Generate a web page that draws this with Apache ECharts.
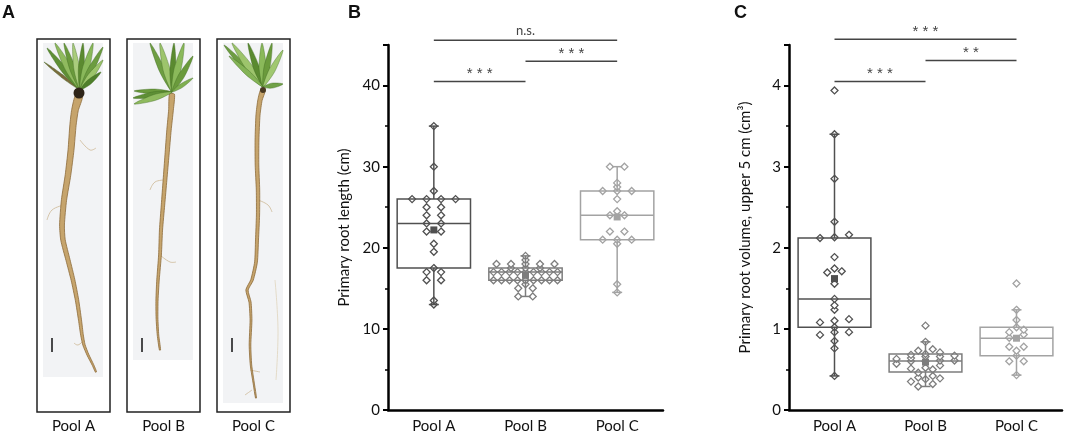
<!DOCTYPE html>
<html>
<head>
<meta charset="utf-8">
<script src="https://cdn.jsdelivr.net/npm/echarts@6/dist/echarts.min.js"></script>
<style>
  html, body { margin: 0; background: #fff; }
  #chart { width: 1065px; height: 436px; }
</style>
</head>
<body>
<div id="chart"></div>
<script>
// values
const pools = ['Pool A', 'Pool B', 'Pool C'];

const lengthA = [35, 30, 27, 26, 26, 26, 26, 25, 25, 24, 24, 23, 23, 22, 22, 20.5, 19.5, 17.5, 17, 17, 16, 16, 13.5, 13];
const lengthB = [19, 18.5, 18, 18, 18, 18, 18, 17.5, 17.5, 17.5, 17, 17, 17, 17, 17, 17, 17, 17, 17,
                 16, 16, 16, 16, 16, 16, 16, 16, 16, 15.5, 15, 15, 14, 14];
const lengthC = [30, 30, 28, 27.5, 27, 27, 27, 26, 24.5, 24, 24, 22, 22, 21, 21, 21, 20.5, 15.5, 14.5];

const volumeA = [3.94, 3.40, 2.85, 2.32, 2.16, 2.13, 2.12, 1.885, 1.745, 1.71, 1.695, 1.556, 1.37, 1.29,
                 1.235, 1.12, 1.10, 1.08, 1.02, 0.96, 0.96, 0.926, 0.85, 0.76, 0.42];
const volumeB = [1.04, 0.84, 0.75, 0.73, 0.71, 0.69, 0.68, 0.67, 0.66, 0.66, 0.64, 0.63, 0.61, 0.61, 0.60,
                 0.60, 0.57, 0.55, 0.52, 0.51, 0.50, 0.46, 0.42, 0.40, 0.39, 0.38, 0.35, 0.32, 0.29];
const volumeC = [1.56, 1.235, 1.11, 1.02, 0.99, 0.96, 0.93, 0.89, 0.78, 0.78, 0.73, 0.67, 0.60, 0.60, 0.43];

// [whisker low, Q1, median, Q3, whisker high]
const lengthBox = [[13, 17.5, 23, 26, 35], [14, 16, 17, 17.5, 19], [14.5, 21, 24, 27, 30]];
const lengthMean = [22.2, 16.6, 23.8];
const volumeBox = [[0.42, 1.02, 1.37, 2.12, 3.40], [0.29, 0.47, 0.605, 0.69, 0.84], [0.43, 0.67, 0.885, 1.02, 1.235]];
const volumeMean = [1.62, 0.59, 0.885];

// [from pool, to pool, bracket level, label]
const lengthSig = [[0, 2, 45.6, 'n.s.'], [1, 2, 43.0, '* * *'], [0, 1, 40.5, '* * *']];
const volumeSig = [[0, 2, 4.57, '* * *'], [1, 2, 4.31, '* *'], [0, 1, 4.05, '* * *']];

const lengthTicks = { max: 45, interval: 10 };
const volumeTicks = { max: 4.5, interval: 1 };

const poolColors = ['#505050', '#7d7d7d', '#a3a3a3'];
const FONT = 'Lato, "Open Sans", sans-serif';

// simple column-scatter layout: ties sit side by side, squeezed to fit the box
function swarm(vals, pxPerUnit, bandPx) {
  const s = vals.slice().sort((a, b) => a - b);
  const out = [];
  let i = 0;
  while (i < s.length) {
    let j = i;
    while (j + 1 < s.length && (s[j + 1] - s[i]) * pxPerUnit < 3.5) j++;
    const n = j - i + 1;
    const sp = Math.min(14.5, 64 / Math.max(n - 1, 1));
    for (let k = 0; k < n; k++) out.push([(k - (n - 1) / 2) * sp / bandPx, s[i + k]]);
    i = j + 1;
  }
  return out;
}

function boxRender(stats, means) {
  return function (params, api) {
    const i = params.dataIndex;
    const [lo, q1, md, q3, hi] = stats[i];
    const col = poolColors[i];
    const x = api.coord([i, md])[0];
    const y = v => api.coord([i, v])[1];
    const half = api.size([1, 0])[0] * 0.4;
    const st = { stroke: col, lineWidth: 1.5, fill: 'none' };
    const line = (x1, y1, x2, y2) => ({ type: 'line', shape: { x1, y1, x2, y2 }, style: st });
    return {
      type: 'group',
      children: [
        { type: 'rect', shape: { x: x - half, y: y(q3), width: 2 * half, height: y(q1) - y(q3) }, style: st },
        line(x - half, y(md), x + half, y(md)),
        line(x, y(q3), x, y(hi)),
        line(x, y(q1), x, y(lo)),
        line(x - 5, y(hi), x + 5, y(hi)),
        line(x - 5, y(lo), x + 5, y(lo)),
        { type: 'rect', shape: { x: x - 3.5, y: y(means[i]) - 3.5, width: 7, height: 7 }, style: { fill: col } }
      ]
    };
  };
}

function sigRender(sig) {
  return function (params, api) {
    const s = sig[params.dataIndex];
    const p1 = api.coord([s[0], s[2]]);
    const p2 = api.coord([s[1], s[2]]);
    const ns = s[3] === 'n.s.';
    return {
      type: 'group',
      children: [
        { type: 'line', shape: { x1: p1[0], y1: p1[1], x2: p2[0], y2: p2[1] }, style: { stroke: '#444', lineWidth: 1.5 } },
        { type: 'text', style: { text: s[3], x: (p1[0] + p2[0]) / 2, y: p1[1] - (ns ? 3 : 0), align: 'center', verticalAlign: 'bottom',
          fill: '#444', font: ns ? '13px ' + FONT : '15px "Liberation Sans", Arial, sans-serif' } }
      ]
    };
  };
}

function yAxis(gridIndex, ticks, name) {
  return {
    type: 'value', gridIndex, min: 0, max: ticks.max, interval: ticks.interval,
    name, nameLocation: 'middle', nameGap: 36,
    nameTextStyle: { fontSize: 15, color: '#111', fontFamily: FONT },
    axisLine: { show: true, onZero: false, lineStyle: { color: '#000', width: 2.5 } },
    axisTick: { show: true, length: 5, lineStyle: { color: '#000', width: 2 } },
    minorTick: { show: true, splitNumber: 2, length: 3, lineStyle: { color: '#000', width: 1.5 } },
    splitLine: { show: false },
    axisLabel: {
      fontSize: 15, color: '#111', fontFamily: FONT, margin: 8,
      formatter: v => Math.abs(v / ticks.interval - Math.round(v / ticks.interval)) < 1e-6 ? String(v) : ''
    }
  };
}

function catAxis(gridIndex) {
  return {
    type: 'category', gridIndex, data: pools,
    axisLine: { onZero: false, lineStyle: { color: '#000', width: 2.5 } },
    axisTick: { alignWithLabel: true, length: 5, lineStyle: { color: '#000', width: 2 } },
    axisLabel: { fontSize: 15, color: '#111', fontFamily: FONT, margin: 9 }
  };
}

function panelSeries(gridIdx, groups, stats, means, sig, pxPerUnit, bandPx) {
  const list = groups.map((vals, i) => ({
    type: 'scatter', xAxisIndex: gridIdx + 2, yAxisIndex: gridIdx, z: 2,
    symbol: 'diamond', symbolSize: 7,
    itemStyle: { color: '#fff', borderColor: poolColors[i], borderWidth: 1.3, opacity: 1 },
    data: swarm(vals, pxPerUnit, bandPx).map(([o, v]) => [i + o, v])
  }));
  list.push({
    type: 'custom', xAxisIndex: gridIdx, yAxisIndex: gridIdx, z: 3, clip: false,
    renderItem: boxRender(stats, means),
    data: stats.map((s, i) => [i, s[2]])
  });
  list.push({
    type: 'custom', xAxisIndex: gridIdx, yAxisIndex: gridIdx, z: 3, clip: false,
    renderItem: sigRender(sig),
    data: sig.map(s => [s[0], s[2]])
  });
  return list;
}

// panel A: drawn stand-ins for the root photographs
function leaf(bx, by, tx, ty, w, color) {
  const mx = bx + (tx - bx) * 0.45, my = by + (ty - by) * 0.45;
  const len = Math.hypot(tx - bx, ty - by) || 1;
  const nx = -(ty - by) / len, ny = (tx - bx) / len;
  return { type: 'polygon', shape: { points: [[bx, by], [mx + nx * w, my + ny * w], [tx, ty], [mx - nx * w, my - ny * w]], smooth: 0.3 },
    style: { fill: color, stroke: '#3f6a22', lineWidth: 0.4 } };
}
function root(pts, w0, w1) {
  const left = [], right = [];
  pts.forEach((p, i) => {
    const a = pts[Math.max(i - 1, 0)], b = pts[Math.min(i + 1, pts.length - 1)];
    const len = Math.hypot(b[0] - a[0], b[1] - a[1]) || 1;
    const nx = -(b[1] - a[1]) / len, ny = (b[0] - a[0]) / len;
    const w = (w0 + (w1 - w0) * i / (pts.length - 1)) / 2;
    left.push([p[0] + nx * w, p[1] + ny * w]);
    right.unshift([p[0] - nx * w, p[1] - ny * w]);
  });
  return { type: 'polygon', shape: { points: left.concat(right), smooth: 0.2 },
    style: { fill: '#c6a46c', stroke: '#8d6b3a', lineWidth: 0.8 } };
}
function thin(pts, color) {
  return { type: 'polyline', shape: { points: pts, smooth: 0.4 }, style: { stroke: color || '#cdb894', lineWidth: 0.8 } };
}
function photoPanel() {
  const g = [];
  [[43, 43, 60, 334], [133, 43, 60, 317], [223, 43, 60, 360]].forEach(r =>
    g.push({ type: 'rect', shape: { x: r[0], y: r[1], width: r[2], height: r[3] }, style: { fill: '#f2f3f5' } }));
  // plant A
  g.push(thin([[80, 140], [90, 150], [96, 148]]), thin([[64, 205], [52, 210], [47, 220]]), thin([[84, 340], [78, 345], [74, 343]]));
  g.push(root([[79, 96], [75, 110], [73, 125], [71, 150], [68, 175], [64, 200], [62, 225], [63, 240], [68, 260], [73, 280],
               [77, 300], [80, 320], [82, 335], [84, 345], [88, 355], [93, 365], [96, 372]], 7, 1.2));
  [[44, 62, 1.5, '#7b6a3c'], [47, 48, 3, '#5e8f35'], [55, 43, 3.5, '#8fba5e'], [64, 43, 3, '#6a9a3c'], [73, 43, 3, '#a9cc7c'],
   [83, 43, 3, '#5b8a30'], [93, 43, 3.5, '#89b85a'], [103, 47, 3, '#6c9c40'], [103, 60, 3, '#9cc46a'], [101, 72, 2.5, '#4f7f2b']]
    .forEach(l => g.push(leaf(80, 90, l[0], l[1], l[2], l[3])));
  g.push({ type: 'circle', shape: { cx: 79, cy: 93, r: 5.5 }, style: { fill: '#2e2418' } });
  // plant B
  g.push(thin([[165, 180], [155, 182], [150, 190]]), thin([[160, 255], [170, 262], [176, 262]]));
  g.push(root([[172, 94], [171, 110], [169, 130], [167, 155], [165, 180], [163, 205], [161, 230], [160, 255], [158, 280],
               [157, 300], [157, 318], [158, 335], [160, 350]], 5, 1.2));
  [[150, 43, 3, '#6e9d42'], [160, 43, 3.5, '#9dc46c'], [174, 43, 3, '#5a8a30'], [184, 43, 3.5, '#8ab95a'], [193, 56, 3, '#6a9a3c'],
   [193, 78, 2, '#7faf50'], [134, 91, 2.5, '#6a9a3c'], [133, 98, 3, '#5e8f35'], [134, 104, 3, '#8fba5e']]
    .forEach(l => g.push(leaf(172, 92, l[0], l[1], l[2], l[3])));
  // plant C
  g.push(thin([[258, 200], [268, 205], [272, 212]]), thin([[250, 370], [260, 372]]), thin([[252, 390], [245, 395]]),
         thin([[275, 280], [278, 330], [276, 380]], '#e0d4bd'));
  g.push(root([[263, 90], [260, 100], [258, 115], [257, 140], [257, 165], [258, 190], [258, 215], [257, 240], [256, 262],
               [252, 280], [247, 290], [250, 302], [251, 320], [250, 345], [251, 365], [254, 385], [256, 398]], 4.5, 1));
  [[224, 45, 3, '#6e9d42'], [232, 43, 3.5, '#9dc46c'], [248, 43, 3, '#5a8a30'], [262, 43, 3.5, '#8ab95a'], [272, 43, 3, '#6a9a3c'],
   [283, 50, 3, '#a0c870'], [283, 84, 2.5, '#6fa046'], [229, 56, 2.5, '#84b356']]
    .forEach(l => g.push(leaf(263, 87, l[0], l[1], l[2], l[3])));
  g.push({ type: 'circle', shape: { cx: 263, cy: 90, r: 3 }, style: { fill: '#4a3a22' } });
  // frames, scale bars, captions
  [37, 127, 217].forEach((x, i) => {
    g.push({ type: 'rect', shape: { x, y: 39, width: 73, height: 373 }, style: { fill: 'none', stroke: '#222', lineWidth: 1.5 } });
    g.push({ type: 'line', shape: { x1: x + 15, y1: 338, x2: x + 15, y2: 352 }, style: { stroke: '#111', lineWidth: 1.5 } });
    g.push({ type: 'text', style: { text: pools[i], x: x + 36.5, y: 426, align: 'center', verticalAlign: 'middle',
      font: '15px ' + FONT, fill: '#111' } });
  });
  [['A', 2], ['B', 348], ['C', 734]].forEach(t =>
    g.push({ type: 'text', style: { text: t[0], x: t[1], y: 4, font: 'bold 18px "Liberation Sans", Arial, sans-serif', fill: '#111' } }));
  return g;
}

const chart = echarts.init(document.getElementById('chart'));
chart.setOption({
  animation: false,
  backgroundColor: '#fff',
  grid: [
    { left: 388, top: 45, width: 275, height: 365, outerBoundsMode: 'none' },
    { left: 789, top: 45, width: 273, height: 365, outerBoundsMode: 'none' }
  ],
  xAxis: [
    catAxis(0), catAxis(1),
    { type: 'value', gridIndex: 0, min: -0.5, max: 2.5, show: false },
    { type: 'value', gridIndex: 1, min: -0.5, max: 2.5, show: false }
  ],
  yAxis: [
    yAxis(0, lengthTicks, 'Primary root length (cm)'),
    yAxis(1, volumeTicks, 'Primary root volume, upper 5 cm (cm³)')
  ],
  graphic: photoPanel(),
  series: [
    ...panelSeries(0, [lengthA, lengthB, lengthC], lengthBox, lengthMean, lengthSig, 365 / 45, 275 / 3),
    ...panelSeries(1, [volumeA, volumeB, volumeC], volumeBox, volumeMean, volumeSig, 365 / 4.5, 273 / 3)
  ]
});
</script>
</body>
</html>
